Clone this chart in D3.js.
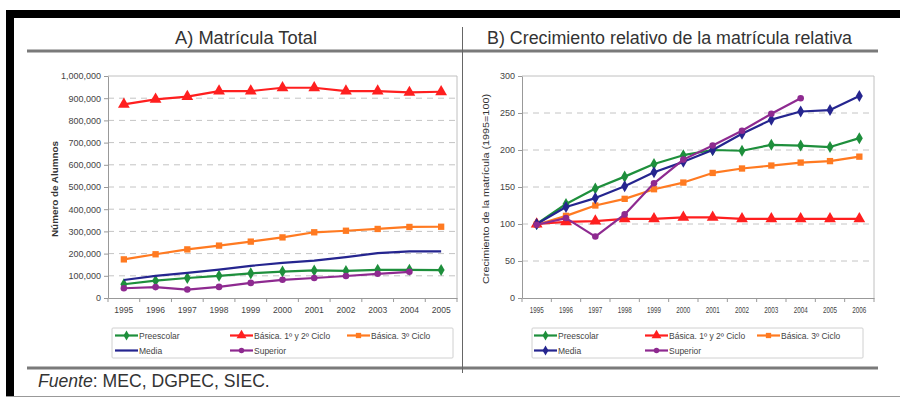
<!DOCTYPE html>
<html>
<head>
<meta charset="utf-8">
<script src="https://cdn.jsdelivr.net/npm/d3@7"></script>
<style>
  html, body { margin: 0; padding: 0; background: #fff; }
  svg { display: block; font-family: "Liberation Sans", Arial, sans-serif; }
</style>
</head>
<body>
<svg id="chart" width="900" height="398"></svg>
<script>
// ---- Data ----
const yearsTotal = ["1995","1996","1997","1998","1999","2000","2001","2002","2003","2004","2005"];
const yearsIndex = ["1995","1996","1997","1998","1999","2000","2001","2002","2003","2004","2005","2006"];

// Matrícula total (alumnos)
const preescolarTotal = [62000, 78000, 90000, 100000, 111000, 119000, 124000, 122000, 127000, 127000, 126000];
const basica12Total   = [872000, 895000, 907000, 932000, 932000, 947000, 947000, 932000, 932000, 926000, 929000];
const basica3Total    = [174000, 197000, 219000, 236000, 254000, 273000, 296000, 303000, 311000, 320000, 321000];
const mediaTotal      = [81000, 100000, 113000, 128000, 145000, 158000, 168000, 184000, 202000, 210000, 210000];
const superiorTotal   = [44000, 49000, 38000, 50000, 68000, 82000, 90000, 99000, 109000, 118000];

// Crecimiento relativo (1995 = 100)
const preescolarIdx = [100, 127, 148, 164, 181, 193, 200, 199, 207, 206, 204, 216];
const basica12Idx   = [100, 103, 104, 107, 107, 109, 109, 107, 107, 107, 107, 107];
const basica3Idx    = [99, 111, 125, 134, 147, 156, 169, 175, 179, 183, 185, 191];
const mediaIdx      = [100, 123, 135, 151, 170, 184, 200, 222, 241, 252, 254, 273];
const superiorIdx   = [99, 108, 83, 113, 155, 187, 206, 226, 249, 270];

const seriesNames  = ["Preescolar", "Básica. 1º y 2º Ciclo", "Básica. 3º Ciclo", "Media", "Superior"];
const seriesColors = ["#1e8f3c", "#ff1f1f", "#ff7a21", "#25258f", "#8e2a90"];
const seriesSymbols = [d3.symbolDiamond, d3.symbolTriangle, d3.symbolSquare, d3.symbolDiamond, d3.symbolCircle];
const symbolSizes = [42, 60, 40, 42, 34];

const totalTicks = d3.range(0, 1000001, 100000);
const indexTicks = d3.range(0, 301, 50);

const svg = d3.select("#chart");
const font = "\"Liberation Sans\", Arial, sans-serif";
const textColor = "#333";

// ---- Frame ----
svg.append("rect").attr("x", 6).attr("y", 10).attr("width", 894).attr("height", 8).attr("fill", "#000");
svg.append("rect").attr("x", 6).attr("y", 10).attr("width", 8).attr("height", 387).attr("fill", "#000");
svg.append("line").attr("x1", 6).attr("x2", 900).attr("y1", 396.5).attr("y2", 396.5)
  .attr("stroke", "#999").attr("stroke-width", 1);

// header / footer rules and divider
svg.append("line").attr("x1", 27).attr("x2", 878).attr("y1", 51).attr("y2", 51)
  .attr("stroke", "#7a7a7a").attr("stroke-width", 3);
svg.append("line").attr("x1", 27).attr("x2", 878).attr("y1", 368).attr("y2", 368)
  .attr("stroke", "#7a7a7a").attr("stroke-width", 3);
svg.append("line").attr("x1", 462.5).attr("x2", 462.5).attr("y1", 27).attr("y2", 373)
  .attr("stroke", "#666").attr("stroke-width", 1);

svg.append("text").attr("x", 175).attr("y", 44)
  .attr("font-size", 17.5).attr("fill", textColor)
  .attr("textLength", 142).attr("lengthAdjust", "spacingAndGlyphs")
  .text("A) Matrícula Total");
svg.append("text").attr("x", 487).attr("y", 44)
  .attr("font-size", 17.5).attr("fill", textColor)
  .attr("textLength", 365).attr("lengthAdjust", "spacingAndGlyphs")
  .text("B) Crecimiento relativo de la matrícula relativa");

const fuente = svg.append("text").attr("x", 38).attr("y", 387).attr("font-size", 17.6).attr("fill", textColor);
fuente.append("tspan").attr("font-style", "italic").text("Fuente");
fuente.append("tspan").text(": MEC, DGPEC, SIEC.");

// ---- Panel drawing ----
function drawPanel(opts) {
  const { years, series, x0, x1, yTop, yBottom, yMax, ticks, tickFormat, yTitle, yTitleX, yTitleBold, yTitleLength, legendX, legendW, legendCols } = opts;
  const g = svg.append("g");
  const x = d3.scaleBand().domain(years).range([x0, x1]).paddingInner(0).paddingOuter(0);
  const y = d3.scaleLinear().domain([0, yMax]).range([yBottom, yTop]);

  // dashed gridlines
  g.append("g").selectAll("line")
    .data(ticks.filter(t => t > 0 && t < yMax))
    .join("line")
    .attr("x1", x0).attr("x2", x1)
    .attr("y1", d => y(d)).attr("y2", d => y(d))
    .attr("stroke", "#c4c4c4").attr("stroke-width", 1).attr("stroke-dasharray", "6,5");

  // plot border (top & right)
  g.append("path")
    .attr("d", `M${x0},${y(yMax)}H${x1}V${y(0)}`)
    .attr("fill", "none").attr("stroke", "#c0c0c0").attr("stroke-width", 1);

  // y axis
  const yAxis = d3.axisLeft(y).tickValues(ticks).tickFormat(tickFormat).tickSize(4).tickSizeOuter(0).tickPadding(3);
  const ya = g.append("g").attr("transform", `translate(${x0},0)`).call(yAxis);
  ya.select(".domain").attr("stroke", "#999");
  ya.selectAll(".tick line").attr("stroke", "#999");
  ya.selectAll("text").attr("font-size", 9).attr("font-family", font).attr("fill", "#444");

  // x axis: labels at category centres, ticks at category boundaries
  const xAxis = d3.axisBottom(x).tickSize(0).tickPadding(9);
  const xa = g.append("g").attr("transform", `translate(0,${y(0)})`).call(xAxis);
  xa.select(".domain").attr("stroke", "#999");
  xa.selectAll("text").attr("font-size", 8.5).attr("font-family", font).attr("fill", "#444")
    .attr("textLength", opts.xLabelWidth).attr("lengthAdjust", "spacingAndGlyphs");
  g.append("g").selectAll("line")
    .data(years.concat(["__end"]))
    .join("line")
    .attr("x1", (d, i) => i < years.length ? x(d) : x0 + x.bandwidth() * years.length)
    .attr("x2", (d, i) => i < years.length ? x(d) : x0 + x.bandwidth() * years.length)
    .attr("y1", y(0)).attr("y2", y(0) + 4)
    .attr("stroke", "#999");

  // y axis title
  const yt = g.append("text")
    .attr("transform", `translate(${yTitleX},${(yTop + yBottom) / 2 + 2}) rotate(-90)`)
    .attr("text-anchor", "middle")
    .attr("font-size", 9).attr("font-weight", yTitleBold ? "bold" : "normal")
    .attr("fill", "#333").text(yTitle);
  if (yTitleLength) yt.attr("textLength", yTitleLength).attr("lengthAdjust", "spacingAndGlyphs");

  // series
  const line = d3.line().x(d => x(d.year) + x.bandwidth() / 2).y(d => y(d.value));
  series.forEach(s => {
    const pts = s.values.map((v, i) => ({ year: years[i], value: v }));
    g.append("path").datum(pts).attr("d", line)
      .attr("fill", "none").attr("stroke", s.color).attr("stroke-width", 2.2)
      .attr("stroke-linejoin", "round");
    if (s.symbol) {
      g.append("g").selectAll("path").data(pts).join("path")
        .attr("transform", d => `translate(${x(d.year) + x.bandwidth() / 2},${y(d.value)})`)
        .attr("d", d3.symbol(s.symbol, s.size))
        .attr("fill", s.color);
    }
  });

  // legend
  const lg = g.append("g");
  lg.append("rect").attr("x", legendX).attr("y", 328).attr("width", legendW).attr("height", 30)
    .attr("fill", "#fff").attr("stroke", "#d0d0d0").attr("stroke-width", 1).attr("rx", 1);
  const order = [0, 1, 2, 3, 4];
  order.forEach((idx, k) => {
    const s = series.find(d => d.index === idx);
    const col = k < 3 ? k : k - 3;
    const row = k < 3 ? 0 : 1;
    const lx = legendX + legendCols[col];
    const ly = 335.5 + row * 15;
    lg.append("line").attr("x1", lx).attr("x2", lx + 23).attr("y1", ly).attr("y2", ly)
      .attr("stroke", s.color).attr("stroke-width", 2.2);
    if (s.symbol) {
      lg.append("path").attr("transform", `translate(${lx + 11.5},${ly})`)
        .attr("d", d3.symbol(s.symbol, s.size * 0.7)).attr("fill", s.color);
    }
    lg.append("text").attr("x", lx + 24).attr("y", ly + 3).attr("font-size", 8.5)
      .attr("fill", "#444").text(s.name);
  });
}

const totals = [preescolarTotal, basica12Total, basica3Total, mediaTotal, superiorTotal];
const indices = [preescolarIdx, basica12Idx, basica3Idx, mediaIdx, superiorIdx];

drawPanel({
  years: yearsTotal,
  series: totals.map((v, i) => ({
    index: i, name: seriesNames[i], color: seriesColors[i], values: v,
    symbol: i === 3 ? null : seriesSymbols[i], size: symbolSizes[i]
  })),
  x0: 108, x1: 457, yTop: 76, yBottom: 298, yMax: 1000000,
  ticks: totalTicks, tickFormat: d3.format(","),
  yTitle: "Número de Alumnos", yTitleX: 58, yTitleBold: true, yTitleLength: 96,
  legendX: 112, legendW: 341, legendCols: [3, 118, 235],
  xLabelWidth: 19
});

drawPanel({
  years: yearsIndex,
  series: indices.map((v, i) => ({
    index: i, name: seriesNames[i], color: seriesColors[i], values: v,
    symbol: seriesSymbols[i], size: symbolSizes[i]
  })),
  x0: 522, x1: 874, yTop: 76, yBottom: 298, yMax: 300,
  ticks: indexTicks, tickFormat: d3.format("d"),
  yTitle: "Crecimiento de la matrícula (1995=100)", yTitleX: 489, yTitleBold: false, yTitleLength: 190,
  legendX: 532, legendW: 331, legendCols: [2, 113, 225],
  xLabelWidth: 14
});
</script>
</body>
</html>
